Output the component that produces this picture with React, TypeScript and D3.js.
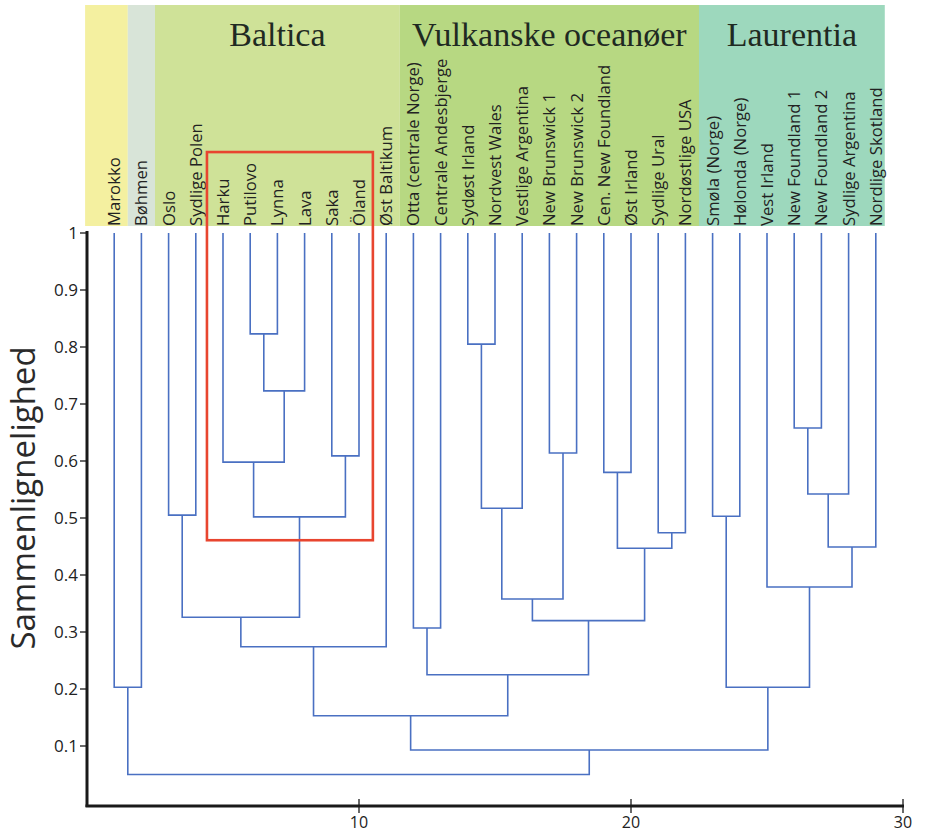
import React from "react";
import * as d3 from "d3";

// ---------- data ----------
const leaves = [
  "Marokko", "Bøhmen", "Oslo", "Sydlige Polen", "Harku", "Putilovo", "Lynna", "Lava",
  "Saka", "Öland", "Øst Baltikum", "Otta (centrale Norge)", "Centrale Andesbjerge",
  "Sydøst Irland", "Nordvest Wales", "Vestlige Argentina", "New Brunswick 1",
  "New Brunswick 2", "Cen. New Foundland", "Øst Irland", "Sydlige Ural",
  "Nordøstlige USA", "Smøla (Norge)", "Hølonda (Norge)", "Vest Irland",
  "New Foundland 1", "New Foundland 2", "Sydlige Argentina", "Nordlige Skotland",
];

// linkage: [childA, childB, similarity]; ids >= leaves.length refer to earlier merges
const merges: [number, number, number][] = [
  [5, 6, 0.823],   // 29
  [13, 14, 0.805], // 30
  [29, 7, 0.723],  // 31
  [25, 26, 0.658], // 32
  [16, 17, 0.614], // 33
  [8, 9, 0.609],   // 34
  [4, 31, 0.598],  // 35
  [18, 19, 0.58],  // 36
  [32, 27, 0.542], // 37
  [30, 15, 0.517], // 38
  [2, 3, 0.505],   // 39
  [35, 34, 0.502], // 40
  [22, 23, 0.503], // 41
  [20, 21, 0.474], // 42
  [37, 28, 0.449], // 43
  [36, 42, 0.447], // 44
  [24, 43, 0.379], // 45
  [38, 33, 0.358], // 46
  [39, 40, 0.326], // 47
  [46, 44, 0.32],  // 48
  [11, 12, 0.307], // 49
  [47, 10, 0.274], // 50
  [49, 48, 0.225], // 51
  [0, 1, 0.203],   // 52
  [41, 45, 0.203], // 53
  [50, 51, 0.153], // 54
  [54, 53, 0.093], // 55
  [52, 55, 0.05],  // 56
];

const bandNames = ["", "", "Baltica", "Vulkanske oceanøer", "Laurentia"];
const bandFirst = [0, 1, 2, 11, 22];
const bandLast = [0, 1, 10, 21, 28];
const bandColors = ["#f4f0a0", "#d8e4d8", "#cfe298", "#b7d882", "#9dd8bd"];

const yTicks = [0.1, 0.2, 0.3, 0.4, 0.5, 0.6, 0.7, 0.8, 0.9, 1];
const xTicks = [10, 20, 30];

const highlight = { from: 4.41, to: 10.51, low: 0.461, high: 1.142 };

const yTitle = "Sammenlignelighed";

// ---------- layout ----------
const W = 925;
const H = 835;
const xs = d3.scaleLinear().domain([0, 30]).range([87, 903]);
const ys = d3.scaleLinear().domain([0, 1]).range([803, 233]);

type Pos = { x: number; h: number };

function buildPositions(): Pos[] {
  const pos: Pos[] = leaves.map((_, i) => ({ x: i + 1, h: 1 }));
  merges.forEach(([a, b, h]) => {
    pos.push({ x: (pos[a].x + pos[b].x) / 2, h });
  });
  return pos;
}

export default function App() {
  const pos = buildPositions();

  const links = merges.map(([a, b, h], i) => {
    const A = pos[a];
    const B = pos[b];
    const p = d3.path();
    p.moveTo(xs(A.x), ys(A.h));
    p.lineTo(xs(A.x), ys(h));
    p.lineTo(xs(B.x), ys(h));
    p.lineTo(xs(B.x), ys(B.h));
    return <path key={i} d={p.toString()} fill="none" stroke="#4a70c2" strokeWidth={1.6} />;
  });

  const bandTop = 5;
  const bandBottom = 226;
  const bands = bandNames.map((name, i) => {
    const left = i === 0 ? xs(-0.07) : xs((bandFirst[i] + bandLast[i - 1]) / 2 + 1);
    const right =
      i === bandNames.length - 1 ? xs(bandLast[i] + 1.33) : xs((bandLast[i] + bandFirst[i + 1]) / 2 + 1);
    return (
      <g key={i}>
        <rect x={left} y={bandTop} width={right - left} height={bandBottom - bandTop} fill={bandColors[i]} />
        {name && (
          <text
            x={(left + right) / 2}
            y={46}
            textAnchor="middle"
            fontFamily="'Liberation Serif', serif"
            fontSize={34}
            fill="#1f2a22"
          >
            {name}
          </text>
        )}
      </g>
    );
  });

  const labels = leaves.map((name, i) => (
    <text
      key={i}
      transform={`translate(${xs(i + 1)},${226}) rotate(-90)`}
      dy="0.36em"
      fontFamily="'Open Sans', sans-serif"
      fontSize={16.7}
      fill="#222"
    >
      {name}
    </text>
  ));

  return (
    <svg width={W} height={H} style={{ position: "absolute", left: 0, top: 0, background: "#fff" }}>
      <rect width={W} height={H} fill="#fff" />
      {bands}
      {labels}
      {links}
      <rect
        x={xs(highlight.from)}
        y={ys(highlight.high)}
        width={xs(highlight.to) - xs(highlight.from)}
        height={ys(highlight.low) - ys(highlight.high)}
        fill="none"
        stroke="#e8452f"
        strokeWidth={2.6}
      />
      {/* y axis */}
      <line x1={87} x2={87} y1={231} y2={807} stroke="#1a1a1a" strokeWidth={3} />
      {yTicks.map((t) => (
        <g key={t}>
          <line x1={80} x2={87} y1={ys(t)} y2={ys(t)} stroke="#1a1a1a" strokeWidth={1.3} />
          <text
            x={78}
            y={ys(t)}
            dy="0.35em"
            textAnchor="end"
            fontFamily="'Open Sans', sans-serif"
            fontSize={17}
            fill="#222"
          >
            {String(t)}
          </text>
        </g>
      ))}
      {/* x axis */}
      <line x1={85.5} x2={904} y1={806} y2={806} stroke="#1a1a1a" strokeWidth={3} />
      {xTicks.map((t) => (
        <g key={t}>
          <line x1={xs(t)} x2={xs(t)} y1={799} y2={813} stroke="#1a1a1a" strokeWidth={1.3} />
          <text
            x={xs(t)}
            y={828}
            textAnchor="middle"
            fontFamily="'Open Sans', sans-serif"
            fontSize={16}
            fill="#222"
          >
            {t}
          </text>
        </g>
      ))}
      <text
        transform={`translate(23,${498}) rotate(-90)`}
        dy="0.36em"
        textAnchor="middle"
        fontFamily="'Open Sans', sans-serif"
        fontSize={33}
        fill="#2a2a2a"
      >
        {yTitle}
      </text>
    </svg>
  );
}
